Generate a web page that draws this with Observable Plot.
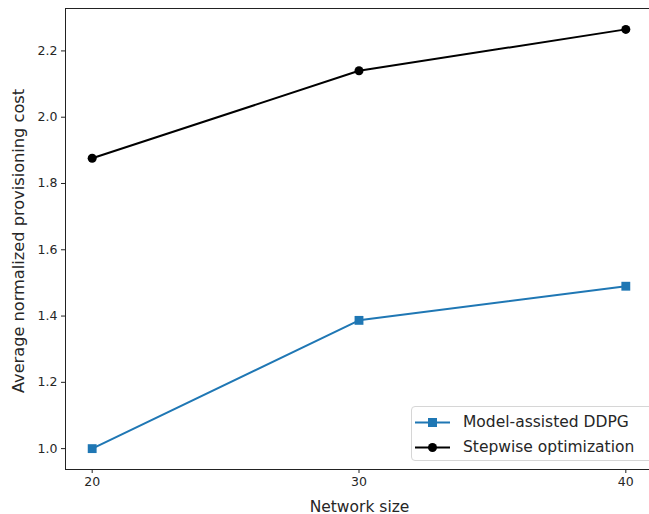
<!DOCTYPE html>
<html>
<head>
<meta charset="utf-8">
<script src="https://cdn.jsdelivr.net/npm/d3@7"></script>
<script src="https://cdn.jsdelivr.net/npm/@observablehq/plot@0.6"></script>
<style>
  html, body { margin: 0; padding: 0; background: #fff; }
  #wrap { position: relative; width: 649px; height: 514px; overflow: hidden; font-family: "DejaVu Sans", sans-serif; }
  #legend { position: absolute; left: 411px; top: 406px; width: 244px; height: 55px; box-sizing: border-box;
    border: 1px solid #d6d6d6; border-radius: 4px; background: rgba(255,255,255,0.8); font-size: 15.5px; color: #262626; }
  .row { position: absolute; left: 0; height: 20px; display: flex; align-items: center; }
  .row svg { margin-left: 3px; margin-right: 13px; }
</style>
</head>
<body>
<div id="wrap"></div>
<script>
const networkSizes = [20, 30, 40];
const ddpgCost = [1.000, 1.387, 1.490];
const stepwiseCost = [1.876, 2.140, 2.265];
const yTicks = [1.0, 1.2, 1.4, 1.6, 1.8, 2.0, 2.2];
const seriesNames = ["Model-assisted DDPG", "Stepwise optimization"];
const seriesColors = ["#1f77b4", "#000000"];

const ddpg = networkSizes.map((x, i) => ({x, y: ddpgCost[i]}));
const step = networkSizes.map((x, i) => ({x, y: stepwiseCost[i]}));

const xDom = [19, 41];
const yDom = [0.937, 2.328];

const chart = Plot.plot({
  width: 649,
  height: 514,
  marginLeft: 65,
  marginRight: 0,
  marginTop: 8,
  marginBottom: 45,
  style: {fontFamily: "DejaVu Sans, sans-serif", fontSize: "12.5px", color: "#262626", background: "#fff"},
  x: {domain: xDom, range: [65, 652], ticks: networkSizes, tickSize: 4, tickPadding: 4, label: null, tickFormat: d => String(d)},
  y: {domain: yDom, ticks: yTicks, tickSize: 4, tickPadding: 4, label: null, tickFormat: d => d.toFixed(1)},
  marks: [
    Plot.ruleX([xDom[0]], {stroke: "#222", strokeWidth: 1}),
    Plot.ruleY([yDom[0]], {stroke: "#222", strokeWidth: 1}),
    Plot.ruleY([yDom[1]], {stroke: "#222", strokeWidth: 1}),
    Plot.line(ddpg, {x: "x", y: "y", stroke: seriesColors[0], strokeWidth: 2}),
    Plot.dot(ddpg, {x: "x", y: "y", symbol: "square", r: 5, fill: seriesColors[0], stroke: "none"}),
    Plot.line(step, {x: "x", y: "y", stroke: seriesColors[1], strokeWidth: 2}),
    Plot.dot(step, {x: "x", y: "y", r: 4.5, fill: seriesColors[1], stroke: "none"}),
    Plot.axisX({ticks: networkSizes, tickSize: 4, tickPadding: 4, label: null, stroke: "#222", tickFormat: d => String(d)}),
    Plot.axisY({ticks: yTicks, tickSize: 4, tickPadding: 4, label: null, stroke: "#222", tickFormat: d => d.toFixed(1)}),
    Plot.text(["Network size"], {frameAnchor: "bottom", dx: 2, dy: 42, fontSize: 15.5, fill: "#262626", lineAnchor: "bottom"}),
    Plot.text(["Average normalized provisioning cost"], {frameAnchor: "left", textAnchor: "middle", dx: -47, dy: 2, rotate: -90, fontSize: 16.2, fill: "#262626"})
  ]
});
const wrap = document.getElementById("wrap");
wrap.appendChild(chart);

const legend = document.createElement("div");
legend.id = "legend";
seriesNames.forEach((name, i) => {
  const row = document.createElement("div");
  row.className = "row";
  row.style.top = (5 + i * 25) + "px";
  const sym = i === 0
    ? `<rect x="13" y="5" width="9" height="9" fill="${seriesColors[i]}"/>`
    : `<circle cx="17.5" cy="9.5" r="4.5" fill="${seriesColors[i]}"/>`;
  row.innerHTML = `<svg width="35" height="19"><line x1="0" x2="35" y1="9.5" y2="9.5" stroke="${seriesColors[i]}" stroke-width="2"/>${sym}</svg><span>${name}</span>`;
  legend.appendChild(row);
});
wrap.appendChild(legend);
</script>
</body>
</html>
